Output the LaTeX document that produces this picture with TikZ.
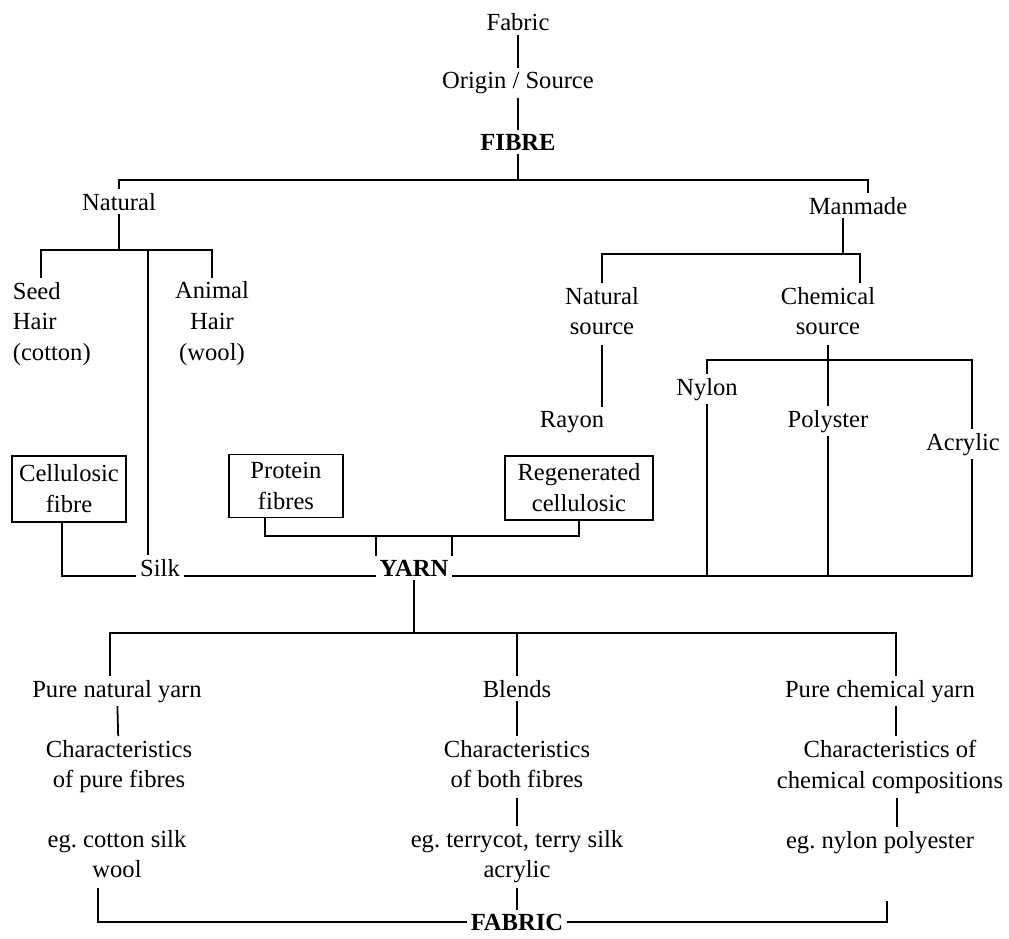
\documentclass[tikz,border=0pt]{standalone}
\usepackage{fontspec}
\setmainfont{Liberation Serif}
\usepackage{tikz}

\begin{document}
\begin{tikzpicture}[x=0.02cm, y=-0.02cm,
	every node/.style={font=\fontsize{14}{17.6}\selectfont, inner sep=2pt},
	bold/.style={font=\fontsize{14}{17.6}\selectfont\bfseries},
	stack/.style={align=center, text depth=3.5pt},
	fbox/.style={draw, line width=0.8pt, align=center, inner sep=1pt},
	link/.style={line width=1pt}]

\useasboundingbox (0,0) rectangle (1009,938);

% fibre part
\node (fabric) at (518,22) {Fabric};
\node (origin) at (518,83) {Origin / Source};
\node[bold] (fibre) at (518,142) {FIBRE};

\node[anchor=base] (natural) at (119,210) {Natural};
\node[anchor=base] (manmade) at (858,214) {Manmade};

\node[align=left, anchor=west] (seed) at (9,324) {Seed\\Hair\\(cotton)};
\node[stack] (animal) at (212,324) {Animal\\Hair\\(wool)};
\node[stack] (natsrc) at (602,314) {Natural\\source};
\node[stack] (chemsrc) at (828,314) {Chemical\\source};

\node[anchor=base] (rayon) at (572,427) {Rayon};
\node[anchor=base] (nylon) at (707,395) {Nylon};
\node[anchor=base] (polyster) at (828,427) {Polyster};
\node[anchor=base] (acrylic) at (963,450) {Acrylic};

\node[fbox, minimum width=2.28cm, minimum height=1.32cm] (cellbox) at (69,489) {Cellulosic\\fibre};
\node[fbox, minimum width=2.28cm, minimum height=1.26cm] (protbox) at (286,486) {Protein\\fibres};
\node[fbox, minimum width=2.96cm, minimum height=1.28cm] (regenbox) at (579,488) {Regenerated\\cellulosic};

\node[anchor=base] (silk) at (160,576) {Silk};
\node[bold, anchor=base] (yarn) at (414,576) {YARN};

% yarn part
\node[anchor=base] (purenat) at (117,697) {Pure natural yarn};
\node[anchor=base] (blends) at (517,697) {Blends};
\node[anchor=base] (purechem) at (880,697) {Pure chemical yarn};

\node[stack] (charnat) at (119,767) {Characteristics\\of pure fibres};
\node[stack] (charblend) at (517,767) {Characteristics\\of both fibres};
\node[stack] (charchem) at (890,767) {Characteristics of\\chemical compositions};

\node[stack] (egnat) at (117,857) {eg.\ cotton silk\\wool};
\node[stack] (egblend) at (517,857) {eg.\ terrycot, terry silk\\acrylic};
\node[anchor=base] (egchem) at (880,848) {eg.\ nylon polyester};

\node[bold, anchor=base] (fabricb) at (517,930) {FABRIC};

\coordinate (fibrebar) at (518,180);
\coordinate (natbar) at (119,250);
\coordinate (silktop) at (148,250);
\coordinate (mmbar) at (843,254);
\coordinate (chembar) at (830,360);
\coordinate (yarnjoin) at (410,536);
\coordinate (yarnbar) at (414,633);

\draw[link] (fabric) -- (origin);
\draw[link] (origin) -- (fibre);
\draw[link] (fibre) -- (fibrebar);
\draw[link] (natural.north) |- (fibrebar) -| ([xshift=5.5pt]manmade.north);

\draw[link] (natural) -- (natbar);
\draw[link] ([xshift=-6pt]seed.north) |- (natbar) -| (animal.north);
\draw[link] (silktop) -- (silktop |- silk.north);

\draw[link] (mmbar |- manmade.south) -- (mmbar);
\draw[link] (natsrc.north) |- (mmbar) -| ([xshift=18pt]chemsrc.north);
\draw[link] (natsrc.south) -- (natsrc.south |- rayon.north);
\draw[link] (chemsrc) -- (polyster);
\draw[link] (nylon.north) |- (chembar) -| ([xshift=5pt]acrylic.north);

% into yarn
\draw[link] ([xshift=-4pt]cellbox.south) |- (silk.base west);
\draw[link] (silk.base east) -- (yarn.base west);
\draw[link] ([xshift=-12pt]protbox.south) |- (yarnjoin) -| (yarn.north west);
\draw[link] (regenbox.south) |- (yarnjoin) -| (yarn.north east);
\draw[link] (yarn.base east) -| ([xshift=5pt]acrylic.south);
\draw[link] (nylon) -- (nylon |- yarn.base);
\draw[link] (polyster) -- (polyster |- yarn.base);

% yarn types
\draw[link] (yarn) -- (yarnbar);
\draw[link] ([xshift=-4pt]purenat.north) |- (yarnbar) -| ([xshift=9pt]purechem.north);
\draw[link] (blends) -- (blends |- yarnbar);
\draw[link] (purenat) -- (charnat);
\draw[link] (blends) -- (charblend);
\draw[link] (charblend) -- (egblend);
\draw[link] ([xshift=9pt]purechem.south) -- ([xshift=9pt]purechem.south |- charchem.north);
\draw[link] ([xshift=4pt]charchem.south) -- ([xshift=4pt]charchem.south |- egchem.north);

% down to fabric
\draw[link] ([xshift=-11pt]egnat.south) |- (fabricb.west);
\draw[link] (egblend) -- (fabricb);
\draw[link] ([xshift=4pt,yshift=-25pt]egchem.south) |- (fabricb.east);

\end{tikzpicture}
\end{document}
